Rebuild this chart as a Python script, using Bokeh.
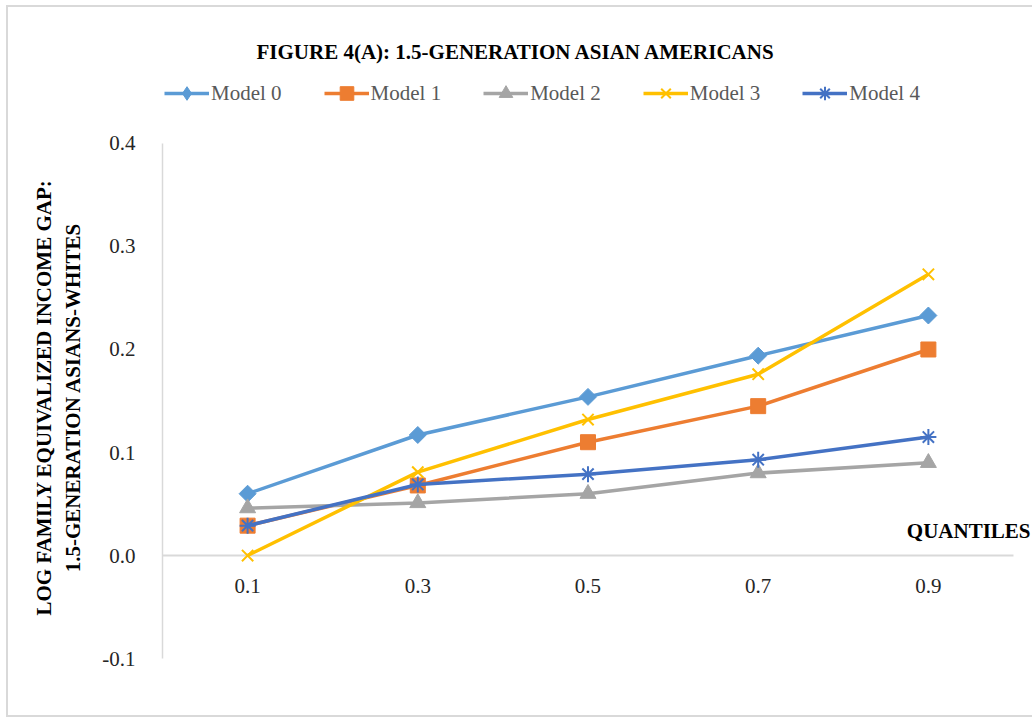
from bokeh.plotting import figure
from bokeh.models import (Range1d, FixedTicker, PrintfTickFormatter, Legend,
                          LegendItem)
from bokeh.core.properties import value
from bokeh.embed import file_html
from bokeh.resources import INLINE

# Quantile positions and their tick labels
quantiles = [0.1, 0.3, 0.5, 0.7, 0.9]
quantile_labels = ["0.1", "0.3", "0.5", "0.7", "0.9"]

# Log family equivalized income gap by model
model_0 = [0.060, 0.117, 0.154, 0.194, 0.233]
model_1 = [0.029, 0.068, 0.110, 0.145, 0.200]
model_2 = [0.046, 0.051, 0.060, 0.080, 0.090]
model_3 = [0.000, 0.081, 0.132, 0.176, 0.273]
model_4 = [0.029, 0.069, 0.079, 0.093, 0.115]

series_names = ["Model 0", "Model 1", "Model 2", "Model 3", "Model 4"]
y_ticks = [-0.1, 0.0, 0.1, 0.2, 0.3, 0.4]

SERIF = "Liberation Serif"

p = figure(
    width=1026, height=712,
    x_range=Range1d(0, 1.0247), y_range=Range1d(-0.1592, 0.466),
    x_axis_location=None,
    output_backend="svg", toolbar_location=None,
    min_border_left=154, min_border_right=0,
    min_border_top=68, min_border_bottom=0,
    title="FIGURE 4(A): 1.5-GENERATION ASIAN AMERICANS",
)
p.styles = {"margin-left": "6px", "margin-top": "5px",
            "border-left": "2px solid #D9D9D9", "border-top": "2px solid #D9D9D9",
            "border-bottom": "2px solid #D9D9D9"}
p.outline_line_color = None
p.grid.visible = False

p.title.text_font = SERIF
p.title.text_font_size = "21px"
p.title.text_font_style = "bold"
p.title.text_color = "#000000"
p.title.align = "left"
p.title.offset = 94
p.title.standoff = 23

# y axis, drawn only over the value span
ax = p.yaxis[0]
ax.bounds = (-0.1, 0.4)
ax.ticker = FixedTicker(ticks=y_ticks)
ax.formatter = PrintfTickFormatter(format="%.1f")
ax.major_tick_line_color = None
ax.minor_tick_line_color = None
ax.axis_line_color = "#D9D9D9"
ax.axis_line_width = 1.5
ax.major_label_text_font = SERIF
ax.major_label_text_font_size = "21px"
ax.major_label_text_color = "#262626"
ax.major_label_standoff = 21
ax.axis_label = "LOG FAMILY EQUIVALIZED INCOME GAP:\n1.5-GENERATION ASIANS-WHITES"
ax.axis_label_text_font = SERIF
ax.axis_label_text_font_size = "21px"
ax.axis_label_text_font_style = "bold"
ax.axis_label_text_color = "#000000"
ax.axis_label_standoff = 14

# horizontal axis at zero with its category labels
p.segment(x0=[0], y0=[0], x1=[1.0], y1=[0], line_color="#D9D9D9", line_width=2)
p.text(x=quantiles, y=[0] * len(quantiles), text=quantile_labels,
       text_font=value(SERIF), text_font_size="21px", text_color="#262626",
       text_align="center", text_baseline="middle", y_offset=30)
p.text(x=[1.02], y=[0.024], text=["QUANTILES"], text_font=value(SERIF),
       text_font_size="21px", text_font_style="bold", text_color="#000000",
       text_align="right", text_baseline="middle")

series = [model_0, model_1, model_2, model_3, model_4]
colors = ["#5B9BD5", "#ED7D31", "#A5A5A5", "#FFC000", "#4472C4"]
markers = ["square", "square", "triangle", "x", "asterisk"]
legend_markers = ["diamond", "square", "triangle", "x", "asterisk"]
angles = [0.785398, 0, 0, 0, 0]
sizes = [12, 15, 16, 16, 16]

items = []
for name, vals, c, m, lm, a, s in zip(series_names, series, colors, markers,
                                      legend_markers, angles, sizes):
    ln = p.line(quantiles, vals, line_color=c, line_width=3.5)
    key = None
    if lm != m:
        # the legend key draws markers unrotated, so it gets its own diamond,
        # drawn first so the rotated square covers it on the chart
        key = p.scatter(quantiles, vals, marker=lm, size=s, fill_color=c, line_color=c)
    if m in ("x", "asterisk"):
        sc = p.scatter(quantiles, vals, marker=m, size=s, line_color=c, line_width=2)
    else:
        sc = p.scatter(quantiles, vals, marker=m, size=s, angle=a,
                       fill_color=c, line_color=c)
    items.append(LegendItem(label=name, renderers=[ln, key if key is not None else sc]))

legend = Legend(items=items, orientation="horizontal", location=(2, 609),
                label_text_font=SERIF, label_text_font_size="21px",
                label_text_color="#595959", glyph_width=45, glyph_height=34,
                label_standoff=2, spacing=42, border_line_color=None,
                background_fill_alpha=0, padding=0, margin=0)
p.add_layout(legend)

open("out.html", "w").write(file_html(p, INLINE))
